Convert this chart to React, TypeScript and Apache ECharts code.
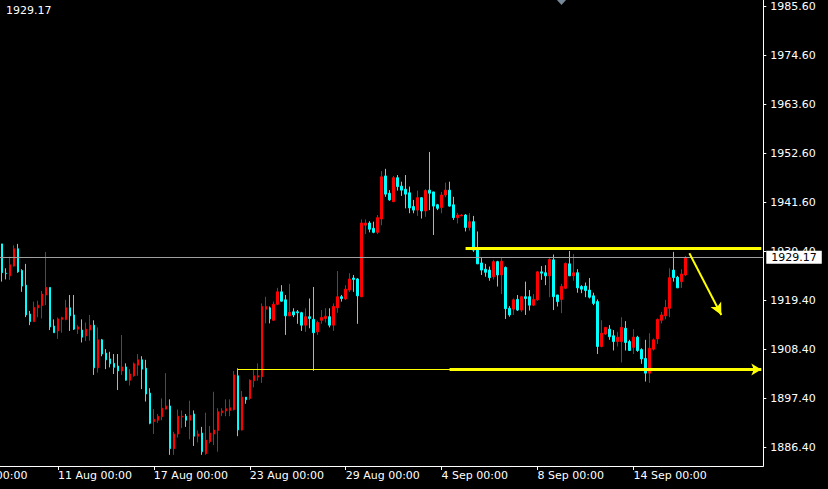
import React, { useEffect, useRef } from "react";
import * as echarts from "echarts";

// ---- data (H4 candles) ----
const open = [1932.2,1925.6,1925.0,1927.2,1931.1,1926.2,1922.9,1916.4,1914.7,1917.8,
1918.3,1920.7,1922.4,1913.7,1912.6,1915.2,1915.2,1917.8,1916.2,1913.0,
1912.8,1911.5,1912.8,1913.9,1904.3,1910.6,1907.6,1906.3,1905.3,1904.7,
1903.6,1904.5,1901.5,1902.5,1904.9,1906.1,1904.2,1898.6,1892.2,1892.5,
1893.3,1895.0,1895.7,1886.1,1889.4,1893.2,1893.4,1892.5,1893.9,1888.9,
1889.6,1885.0,1887.7,1889.4,1890.2,1894.2,1894.6,1894.7,1894.9,1902.5,
1890.3,1897.7,1897.4,1901.4,1902.2,1902.3,1917.5,1917.8,1915.0,1918.6,
1921.4,1919.6,1916.0,1916.9,1916.9,1916.7,1913.9,1915.8,1915.2,1912.4,
1915.0,1915.4,1915.8,1913.9,1917.8,1920.3,1919.8,1921.8,1924.5,1924.3,
1920.3,1936.4,1936.9,1935.7,1934.8,1937.8,1947.5,1943.6,1941.7,1947.1,
1945.2,1944.5,1943.7,1940.6,1939.8,1942.6,1939.6,1944.3,1943.9,1941.0,
1940.4,1943.2,1944.3,1941.0,1938.1,1938.5,1938.7,1935.9,1937.2,1930.8,
1927.9,1926.5,1926.3,1924.8,1928.2,1925.2,1926.9,1917.7,1917.5,1919.7,
1917.3,1920.3,1920.3,1918.4,1919.6,1925.9,1925.7,1925.0,1928.6,1920.7,
1919.7,1922.2,1927.7,1925.0,1925.7,1922.6,1922.7,1921.8,1920.5,1919.2,
1909.1,1911.9,1913.0,1911.5,1910.2,1910.2,1913.2,1910.2,1908.9,1911.2,
1908.4,1906.4,1903.1,1908.5,1910.8,1915.0,1916.0,1917.7,1926.3,1924.7,
1923.7,1925.2];

const high = [1932.2,1926.7,1929.3,1931.9,1932.2,1926.5,1927.7,1917.1,1919.2,1919.4,
1921.6,1930.4,1922.4,1915.2,1915.6,1915.8,1919.6,1920.7,1920.7,1913.9,
1915.2,1914.5,1916.2,1915.0,1913.4,1910.8,1908.5,1907.9,1907.4,1907.4,
1911.7,1905.3,1904.0,1905.5,1907.4,1906.9,1906.1,1899.7,1895.0,1893.9,
1897.4,1903.1,1897.2,1889.9,1894.9,1894.7,1893.9,1896.9,1894.7,1890.2,
1891.0,1894.2,1891.2,1898.9,1895.2,1895.2,1897.2,1897.2,1903.6,1904.2,
1899.1,1897.7,1901.7,1903.8,1905.3,1918.8,1920.3,1918.1,1919.2,1922.3,
1922.9,1920.7,1923.2,1917.7,1917.3,1916.9,1917.7,1919.9,1922.5,1914.9,
1917.3,1917.7,1917.7,1918.8,1926.1,1920.7,1922.9,1925.6,1925.2,1924.5,
1937.7,1937.7,1937.3,1937.2,1938.7,1948.6,1949.1,1944.3,1947.5,1947.7,
1946.2,1947.7,1945.1,1942.1,1944.2,1942.6,1944.5,1952.9,1943.9,1941.2,
1943.9,1946.0,1946.2,1942.8,1939.2,1938.9,1938.9,1939.1,1938.5,1935.0,
1929.2,1927.7,1927.1,1928.6,1928.4,1929.2,1927.1,1918.2,1919.9,1920.7,
1920.5,1923.7,1921.8,1920.9,1926.1,1927.2,1927.4,1929.0,1929.8,1920.7,
1923.2,1928.0,1930.6,1929.9,1926.5,1922.9,1923.5,1924.5,1921.2,1919.7,
1915.0,1913.4,1913.9,1912.8,1912.4,1915.7,1914.8,1910.6,1913.0,1911.5,
1908.7,1910.6,1912.1,1910.9,1915.4,1916.9,1919.6,1926.7,1930.4,1925.0,
1926.5,1929.5];

const low = [1923.7,1924.2,1924.1,1927.1,1925.7,1921.4,1915.7,1913.9,1914.7,1915.7,
1915.4,1918.4,1912.8,1912.2,1910.8,1912.2,1915.0,1912.6,1912.8,1911.9,
1910.0,1910.3,1910.4,1902.7,1903.2,1906.9,1904.0,1904.4,1902.9,1899.3,
1902.7,1901.4,1900.3,1902.3,1902.5,1899.5,1896.7,1891.6,1889.4,1891.9,
1892.5,1894.9,1884.7,1884.7,1888.6,1890.7,1891.0,1888.2,1886.7,1887.5,
1884.7,1884.7,1887.3,1886.9,1885.4,1893.4,1893.4,1893.4,1894.7,1888.9,
1890.2,1896.2,1897.1,1899.9,1901.4,1900.9,1914.3,1914.3,1914.9,1918.4,
1919.2,1911.7,1916.0,1915.7,1914.2,1912.6,1912.4,1913.2,1903.6,1911.7,
1914.2,1914.5,1913.4,1912.6,1916.7,1919.2,1919.6,1921.4,1921.4,1914.2,
1920.2,1934.4,1934.8,1934.6,1934.4,1936.4,1942.8,1941.9,1941.6,1944.2,
1943.0,1940.2,1939.1,1939.1,1938.5,1937.9,1938.3,1939.8,1934.2,1939.8,
1939.1,1942.7,1940.6,1937.6,1936.8,1938.5,1935.0,1935.2,1930.4,1927.7,
1925.2,1924.8,1923.9,1924.2,1922.6,1920.9,1915.3,1915.8,1916.2,1917.1,
1916.9,1916.2,1917.2,1918.2,1919.4,1924.1,1922.9,1920.2,1917.3,1918.1,
1916.6,1922.0,1925.0,1923.9,1921.2,1921.1,1920.2,1919.9,1918.4,1907.4,
1908.9,1911.7,1910.6,1908.2,1909.1,1905.5,1908.2,1908.2,1907.4,1907.9,
1905.2,1901.2,1900.9,1908.2,1909.7,1914.3,1915.2,1915.7,1923.7,1922.3,
1922.3,1925.0];

const close = [1925.7,1925.5,1927.5,1931.1,1925.9,1922.7,1916.2,1914.7,1917.9,1918.4,
1920.9,1922.4,1913.5,1912.2,1915.3,1915.6,1917.8,1916.0,1913.0,1913.5,
1911.2,1913.0,1913.9,1904.3,1910.6,1907.4,1906.1,1905.2,1904.4,1903.6,
1904.5,1901.5,1902.9,1905.2,1906.1,1904.0,1898.4,1891.8,1892.7,1893.4,
1895.2,1895.7,1886.1,1889.4,1893.4,1893.4,1892.5,1893.6,1888.9,1889.4,
1885.4,1888.0,1889.6,1890.3,1894.4,1894.6,1895.1,1895.3,1902.7,1890.3,
1897.7,1897.1,1901.5,1902.5,1902.5,1918.1,1918.1,1915.3,1918.6,1921.4,
1919.3,1916.0,1916.8,1916.2,1916.7,1913.9,1915.8,1915.4,1912.2,1914.5,
1915.6,1915.9,1913.9,1918.1,1920.3,1919.9,1922.0,1924.3,1924.2,1920.5,
1936.9,1936.9,1935.5,1934.8,1938.1,1947.3,1943.4,1942.1,1947.1,1945.1,
1944.3,1943.4,1940.3,1939.8,1942.6,1939.6,1944.2,1943.6,1940.7,1940.2,
1943.2,1944.3,1940.7,1938.1,1938.7,1938.7,1935.9,1937.2,1930.8,1927.7,
1926.3,1925.8,1924.6,1928.2,1925.2,1928.3,1917.6,1916.2,1919.6,1917.3,
1920.3,1919.9,1918.4,1919.7,1925.9,1925.6,1925.0,1928.7,1920.3,1919.2,
1922.6,1927.8,1925.0,1925.7,1922.3,1922.0,1921.7,1920.2,1918.8,1909.1,
1912.1,1913.4,1911.3,1910.2,1911.2,1913.4,1910.0,1908.2,1911.2,1908.2,
1906.3,1903.1,1908.7,1910.6,1915.2,1916.2,1917.9,1924.6,1924.6,1922.3,
1925.4,1929.17];

// x-axis: candle slots (data plus the empty "chart shift" area on the right)
const slotCount = 191;
const categories = Array.from({ length: slotCount }, (_, i) => String(i));
const xLabelIndex = [14, 38, 62, 86, 110, 134, 158];
const xLabelText = ["11 Aug 00:00", "17 Aug 00:00", "23 Aug 00:00", "29 Aug 00:00", "4 Sep 00:00", "8 Sep 00:00", "14 Sep 00:00"];
const offChartLabel = "7 Aug 00:00";

// price scale tick labels (bottom to top)
const yTickLabels = ["1886.40", "1897.40", "1908.40", "1919.40", "1930.40", "1941.60", "1952.60", "1963.60", "1974.60", "1985.60"];

// levels / annotations
const bidPrice = 1929.17;
const resistance = { from: 116, to: 190, price: 1931.2 };
const support = { from: 59, mid: 112, to: 190, price: 1903.92 };
const downArrow = { from: [172, 1930.1], to: [180, 1916.2] };

const FONT = "DejaVu Sans";

export default function App() {
  const ref = useRef<HTMLDivElement>(null);

  useEffect(() => {
    if (!ref.current) return;
    const chart = echarts.init(ref.current, undefined, { renderer: "svg" });

    const candleData = open.map((o, i) => [o, close[i], low[i], high[i]]);
    const isLabel = (idx: number) => xLabelIndex.indexOf(idx) >= 0;

    const plotH = 466;
    const gridLeft = -1.7;
    const gridW = 765;
    // price range mapped on the plot (1985.60 at y=6.7, 1886.40 at y=447.3)
    const pxPerPrice = 440.6 / 99.2;
    const yMax = 1985.6 + 6.7 / pxPerPrice;
    const yMin = 1985.6 - (plotH - 6.7) / pxPerPrice;

    const yellow = "#ffff00";

    chart.setOption({
      animation: false,
      backgroundColor: "#000000",
      textStyle: { fontFamily: FONT },
      grid: [
        { left: gridLeft, top: 0, width: gridW, height: plotH, containLabel: false },
        { left: gridLeft, top: 6.7, width: gridW, height: 440.6, containLabel: false },
      ],
      xAxis: [
        {
          type: "category",
          gridIndex: 0,
          data: categories,
          boundaryGap: true,
          axisLine: { show: true, onZero: false, lineStyle: { color: "#ffffff", width: 1 } },
          axisTick: {
            show: true,
            alignWithLabel: true,
            interval: (idx: number) => isLabel(idx),
            length: 4,
            lineStyle: { color: "#ffffff" },
          },
          axisLabel: {
            show: true,
            interval: (idx: number) => isLabel(idx),
            formatter: (_v: string, idx: number) => {
              const k = xLabelIndex.indexOf(idx);
              return k >= 0 ? xLabelText[k] : "";
            },
            color: "#ffffff",
            fontSize: 11,
            fontFamily: FONT,
            align: "left",
            margin: 4,
          },
          splitLine: { show: false },
        },
        {
          type: "value",
          gridIndex: 1,
          show: false,
          min: 0,
          max: 1,
          axisLine: { show: false, onZero: false },
          axisTick: { show: false },
          axisLabel: { show: false },
          splitLine: { show: false },
        },
      ],
      yAxis: [
        {
          type: "value",
          gridIndex: 0,
          position: "right",
          min: yMin,
          max: yMax,
          axisLine: { show: true, onZero: false, lineStyle: { color: "#ffffff", width: 1 } },
          axisTick: { show: false },
          axisLabel: { show: false },
          splitLine: { show: false },
        },
        {
          type: "value",
          gridIndex: 1,
          position: "right",
          min: 0,
          max: 9,
          interval: 1,
          axisLine: { show: false, onZero: false },
          axisTick: { show: true, length: 3, lineStyle: { color: "#ffffff" } },
          axisLabel: {
            show: true,
            margin: 7,
            color: "#ffffff",
            fontSize: 11,
            fontFamily: FONT,
            formatter: (v: number) => {
              const k = Math.round(v);
              return Math.abs(v - k) < 1e-6 && yTickLabels[k] ? yTickLabels[k] : "";
            },
          },
          splitLine: { show: false },
        },
      ],
      series: [
        {
          type: "candlestick",
          xAxisIndex: 0,
          yAxisIndex: 0,
          data: candleData,
          barWidth: 2,
          clip: false,
          itemStyle: {
            color: "#ff0000",
            color0: "#00ffff",
            borderColor: "#ff0000",
            borderColor0: "#00ffff",
            borderWidth: 1,
          },
          markLine: {
            silent: true,
            animation: false,
            symbol: ["none", "none"],
            precision: 2,
            data: [
              {
                yAxis: bidPrice,
                lineStyle: { color: "#a0a0a0", width: 1, type: "solid" },
                label: {
                  show: true,
                  position: "end",
                  distance: 3,
                  formatter: bidPrice.toFixed(2),
                  backgroundColor: "#ffffff",
                  color: "#000000",
                  padding: [0, 5],
                  lineHeight: 13,
                  fontSize: 11,
                  fontFamily: FONT,
                },
              },
              [
                {
                  coord: [resistance.from, resistance.price],
                  lineStyle: { color: yellow, width: 3, type: "solid" },
                  label: { show: false },
                },
                { coord: [resistance.to, resistance.price] },
              ],
              [
                {
                  coord: [support.from, support.price],
                  lineStyle: { color: yellow, width: 1, type: "solid" },
                  label: { show: false },
                },
                { coord: [support.mid + 10, support.price] },
              ],
              [
                {
                  coord: [support.mid, support.price],
                  lineStyle: { color: yellow, width: 3, type: "solid" },
                  label: { show: false },
                },
                { coord: [support.to, support.price], symbol: "arrow", symbolSize: [9, 10], itemStyle: { color: yellow } },
              ],
              [
                {
                  coord: downArrow.from,
                  lineStyle: { color: yellow, width: 2, type: "solid" },
                  label: { show: false },
                },
                { coord: downArrow.to, symbol: "arrow", symbolSize: [9, 12], itemStyle: { color: yellow } },
              ],
            ],
          },
        },
      ],
      graphic: [
        {
          type: "text",
          left: 6,
          top: 5,
          z: 10,
          style: { text: bidPrice.toFixed(2), fill: "#ffffff", font: `11px '${FONT}'` },
        },
        {
          type: "text",
          x: -39.7,
          y: plotH + 4,
          z: 10,
          style: {
            text: offChartLabel,
            fill: "#ffffff",
            font: `11px '${FONT}'`,
            textAlign: "left",
            textVerticalAlign: "top",
          },
        },
        {
          type: "polygon",
          z: 10,
          shape: { points: [[557, 0], [566, 0], [561.5, 5]] },
          style: { fill: "#778899" },
        },
      ],
    });

    return () => chart.dispose();
  }, []);

  return (
    <div
      ref={ref}
      style={{ position: "fixed", left: 0, top: 0, width: 828, height: 489, background: "#000" }}
    />
  );
}
